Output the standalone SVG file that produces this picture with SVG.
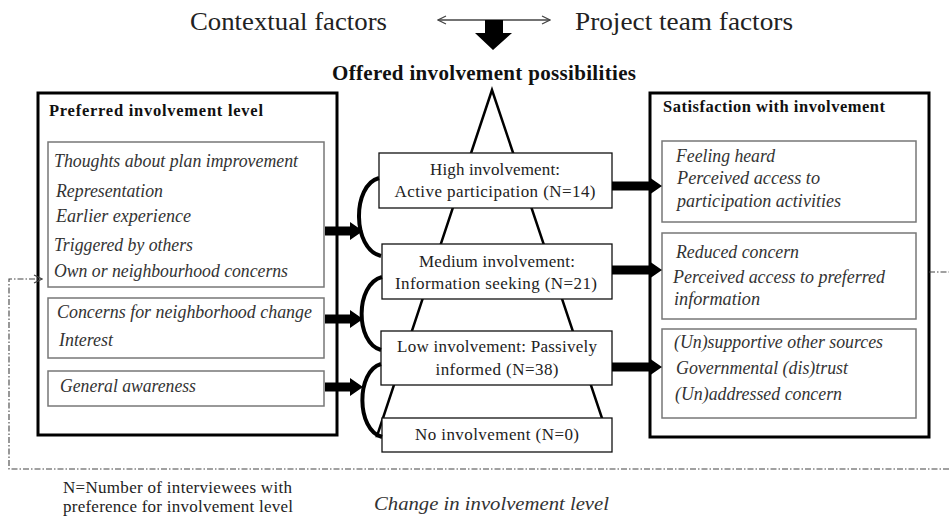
<svg xmlns="http://www.w3.org/2000/svg" width="949" height="520" viewBox="0 0 949 520">
<defs>
<style>
.ob{fill:#fff;stroke:#000;stroke-width:3}
.ib{fill:#fff;stroke:#777;stroke-width:1.5}
.mb{fill:#fff;stroke:#111;stroke-width:1.3}
.it{font-family:'Liberation Serif',serif;font-style:italic;font-size:18px;fill:#333}
.rt{font-family:'Liberation Serif',serif;font-size:17px;fill:#222}
.bt{font-family:'Liberation Serif',serif;font-weight:bold;font-size:16.5px;fill:#111}
.bh{font-family:'Liberation Serif',serif;font-weight:bold;font-size:21px;fill:#111}
.tt{font-family:'Liberation Serif',serif;font-size:26px;fill:#222}
.dd{fill:none;stroke:#444;stroke-width:1.1;stroke-dasharray:6 2 1.5 2}
.ba{fill:#000;stroke:none}
.br{fill:none;stroke:#000;stroke-width:4}
.tri{fill:none;stroke:#000;stroke-width:2.5}
</style>
<marker id="open" viewBox="0 0 10 10" refX="9" refY="5" markerWidth="10" markerHeight="10" markerUnits="userSpaceOnUse" orient="auto-start-reverse">
<path d="M1,1 L9,5 L1,9" fill="none" stroke="#444" stroke-width="1.2"/>
</marker>
</defs>
<rect width="949" height="520" fill="#fff"/>

<g id="top-factors">
<text class="tt" x="190" y="30" textLength="197" lengthAdjust="spacingAndGlyphs">Contextual factors</text>
<text class="tt" x="575" y="30" textLength="218" lengthAdjust="spacingAndGlyphs">Project team factors</text>
</g>

<g id="offered-title">
<text class="bh" x="332" y="80" textLength="304">Offered involvement possibilities</text>
</g>

<g id="pyramid">
<polygon class="tri" points="492,90 377,436 608,436"/>
</g>

<g id="preferred-level">
<rect class="ob" x="38" y="93" width="299" height="342"/>
<text class="bt" x="49" y="116" textLength="214">Preferred involvement level</text>
</g>
<g id="pref-group-1">
<rect class="ib" x="48" y="142" width="276" height="145"/>
<text class="it" x="54" y="167" textLength="244" lengthAdjust="spacingAndGlyphs">Thoughts about plan improvement</text>
<text class="it" x="56" y="197" textLength="107" lengthAdjust="spacingAndGlyphs">Representation</text>
<text class="it" x="56" y="222" textLength="135" lengthAdjust="spacingAndGlyphs">Earlier experience</text>
<text class="it" x="54" y="251" textLength="139" lengthAdjust="spacingAndGlyphs">Triggered by others</text>
<text class="it" x="54" y="277" textLength="234" lengthAdjust="spacingAndGlyphs">Own or neighbourhood concerns</text>
</g>
<g id="pref-group-2">
<rect class="ib" x="48" y="298" width="276" height="60"/>
<text class="it" x="57" y="318" textLength="255" lengthAdjust="spacingAndGlyphs">Concerns for neighborhood change</text>
<text class="it" x="59" y="346" textLength="54" lengthAdjust="spacingAndGlyphs">Interest</text>
</g>
<g id="pref-group-3">
<rect class="ib" x="48" y="371" width="276" height="35"/>
<text class="it" x="60" y="392" textLength="136" lengthAdjust="spacingAndGlyphs">General awareness</text>
</g>

<g id="high-involvement">
<rect class="mb" x="379" y="153" width="233" height="55"/>
<text class="rt" x="495" y="175" text-anchor="middle" textLength="130">High involvement:</text>
<text class="rt" x="495" y="197" text-anchor="middle" textLength="201">Active participation  (N=14)</text>
</g>
<g id="medium-involvement">
<rect class="mb" x="382" y="244" width="230" height="55"/>
<text class="rt" x="497" y="267" text-anchor="middle" textLength="156">Medium involvement:</text>
<text class="rt" x="496" y="289" text-anchor="middle" textLength="202">Information  seeking  (N=21)</text>
</g>
<g id="low-involvement">
<rect class="mb" x="381" y="331" width="231" height="54"/>
<text class="rt" x="497" y="352" text-anchor="middle" textLength="200">Low involvement:  Passively</text>
<text class="rt" x="497" y="375" text-anchor="middle" textLength="123">informed  (N=38)</text>
</g>
<g id="no-involvement">
<rect class="mb" x="382" y="418" width="230" height="34"/>
<text class="rt" x="497" y="440" text-anchor="middle" textLength="164">No involvement  (N=0)</text>
</g>

<g id="satisfaction">
<rect class="ob" x="650" y="93" width="279" height="344"/>
<text class="bt" x="663" y="112" textLength="222">Satisfaction with involvement</text>
</g>
<g id="sat-group-1">
<rect class="ib" x="662" y="141" width="254" height="81"/>
<text class="it" x="676" y="162" textLength="99" lengthAdjust="spacingAndGlyphs">Feeling heard</text>
<text class="it" x="677" y="184" textLength="143" lengthAdjust="spacingAndGlyphs">Perceived access to</text>
<text class="it" x="677" y="207" textLength="164" lengthAdjust="spacingAndGlyphs">participation activities</text>
</g>
<g id="sat-group-2">
<rect class="ib" x="662" y="233" width="254" height="86"/>
<text class="it" x="676" y="258" textLength="123" lengthAdjust="spacingAndGlyphs">Reduced concern</text>
<text class="it" x="673" y="283" textLength="212" lengthAdjust="spacingAndGlyphs">Perceived access to preferred</text>
<text class="it" x="674" y="305" textLength="86" lengthAdjust="spacingAndGlyphs">information</text>
</g>
<g id="sat-group-3">
<rect class="ib" x="662" y="329" width="254" height="89"/>
<text class="it" x="674" y="348" textLength="209" lengthAdjust="spacingAndGlyphs">(Un)supportive other sources</text>
<text class="it" x="676" y="374" textLength="172" lengthAdjust="spacingAndGlyphs">Governmental (dis)trust</text>
<text class="it" x="675" y="400" textLength="167" lengthAdjust="spacingAndGlyphs">(Un)addressed concern</text>
</g>

<g id="connectors">
<line x1="438" y1="20" x2="550" y2="20" stroke="#444" stroke-width="1.3" marker-start="url(#open)" marker-end="url(#open)"/>
<polygon class="ba" points="485,20 503,20 503,33 512,33 493,50 475,33 485,33"/>
<polygon class="ba" points="325,226.5 350,226.5 350,222 363,231 350,240 350,235.5 325,235.5"/>
<polygon class="ba" points="325,314.5 350,314.5 350,310 363,319 350,328 350,323.5 325,323.5"/>
<polygon class="ba" points="325,382.5 350,382.5 350,378 363,387 350,396 350,391.5 325,391.5"/>
<path class="br" d="M379,178 C352,185 352,249 381,256"/>
<path class="br" d="M382,277 C355,284 355,343 381,350"/>
<path class="br" d="M381,364 C356,371 356,430 382,437"/>
<polygon class="ba" points="612,181.5 649,181.5 649,177 662,186 649,195 649,190.5 612,190.5"/>
<polygon class="ba" points="612,265.5 649,265.5 649,261 662,270 649,279 649,274.5 612,274.5"/>
<polygon class="ba" points="612,362.5 649,362.5 649,358 662,367 649,376 649,371.5 612,371.5"/>
<path class="dd" d="M949,469 H9 V279 H42" marker-end="url(#open)"/>
<path class="dd" d="M929,272 H949"/>
</g>

<g id="legend">
<text class="rt" x="63" y="493" textLength="229">N=Number of interviewees  with</text>
<text class="rt" x="63" y="512" textLength="230">preference  for  involvement  level</text>
</g>
<g id="change-label">
<text class="it" x="374" y="510" textLength="235" lengthAdjust="spacingAndGlyphs">Change in involvement level</text>
</g>
</svg>
